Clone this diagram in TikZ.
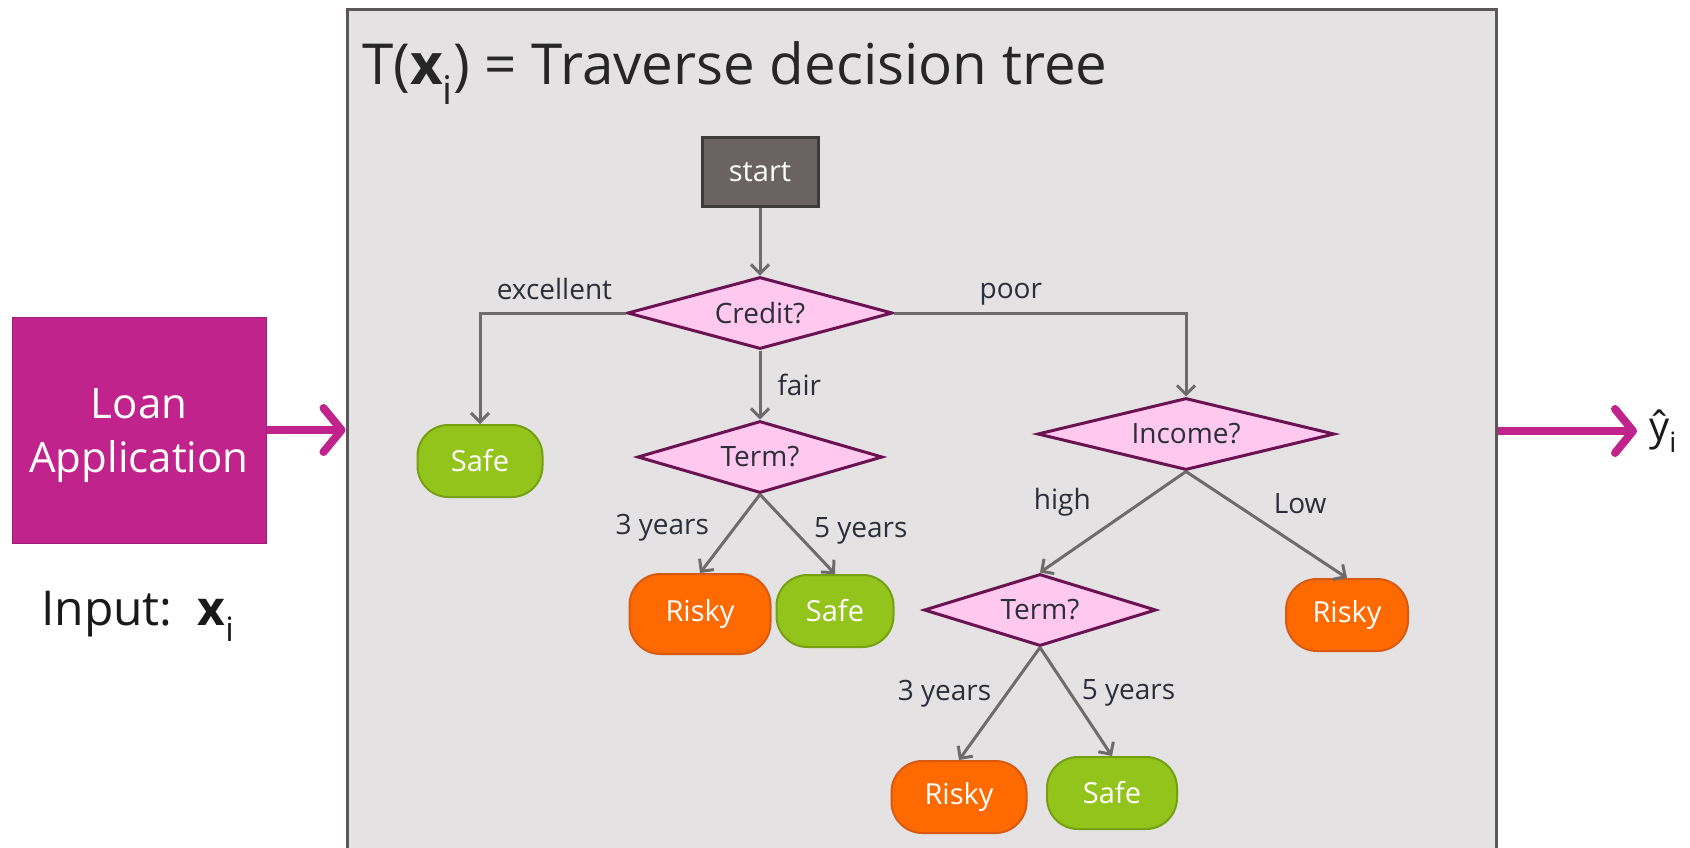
\documentclass[tikz,border=0pt]{standalone}
\usepackage{fontspec}
\setmainfont{Open Sans}
\usepackage{xcolor}
\definecolor{cFrame}{HTML}{5B5757}
\definecolor{cPanel}{HTML}{E4E2E2}
\definecolor{cLoan}{HTML}{C0238B}
\definecolor{cStart}{HTML}{6B6263}
\definecolor{cStartEdge}{HTML}{3E3A3B}
\definecolor{cTest}{HTML}{FFC8EE}
\definecolor{cTestEdge}{HTML}{6A1252}
\definecolor{cSafe}{HTML}{93C41B}
\definecolor{cSafeEdge}{HTML}{74A012}
\definecolor{cRisky}{HTML}{FF6A00}
\definecolor{cRiskyEdge}{HTML}{D85A12}
\definecolor{cEdge}{HTML}{6F6A6B}
\definecolor{cText}{HTML}{2B2F3A}
\usepackage{tikz}
\usetikzlibrary{positioning,arrows.meta,shapes.geometric}
\tikzset{
  node-panel/.style={draw=cFrame,line width=3pt,fill=cPanel,
    minimum width=1149pt,minimum height=880pt,inner sep=0pt},
  node-loan/.style={draw=cLoan!85!black,line width=1pt,fill=cLoan,text=white,
    minimum width=254pt,minimum height=226pt,align=center,text depth=0pt,
    font=\fontsize{42}{54}\selectfont},
  node-start/.style={draw=cStartEdge,line width=3pt,fill=cStart,text=white,
    minimum width=116pt,minimum height=69pt,font=\fontsize{29}{34}\selectfont},
  node-test/.style={diamond,aspect=4,draw=cTestEdge,line width=3pt,fill=cTest,
    inner sep=0pt,minimum height=72pt,text=cText,font=\fontsize{28}{34}\selectfont},
  node-leaf/.style={rounded corners=31pt,line width=2pt,text=white,
    minimum width=122pt,minimum height=72pt,font=\fontsize{29}{34}\selectfont},
  node-safe/.style={node-leaf,draw=cSafeEdge,fill=cSafe},
  node-risky/.style={node-leaf,draw=cRiskyEdge,fill=cRisky},
  edge-label/.style={inner sep=2pt,text=cText,font=\fontsize{28}{34}\selectfont},
  arrow/.style={-{Straight Barb[length=9pt,width=18pt,line width=3pt]},
    line width=3pt,draw=cEdge},
  arrow-feed/.style={-{Straight Barb[length=18pt,width=44pt,line cap=round,
    line join=round]},line width=8pt,draw=cLoan},
}

\begin{document}
\begin{tikzpicture}[x=1pt,y=-1pt]
  \useasboundingbox (0,0) rectangle (1690,847);
  % frame of the tree traversal
  \node[node-panel] (tree) at (921.5,449) {};
  \node[anchor=base west,inner sep=0pt,text=black!85,
    font=\fontsize{56.5}{66}\selectfont] (title) at (362,84)
    {T(\textbf{x}\textsubscript{i}) = Traverse decision tree};

  % input and output
  \node[node-loan] (loan) at (139,430) {Loan\\Application};
  \node[anchor=base west,inner sep=0pt,text=black!90,
    font=\fontsize{48}{56}\selectfont] (input) at (41,625)
    {Input:\ \ \textbf{x}\textsubscript{i}};
  \node[anchor=west,inner sep=0pt,text=black!90,
    font=\fontsize{40}{48}\selectfont] (yhat) at (1649,431) {ŷ\textsubscript{i}};
  \draw[arrow-feed] (loan.east) -- (loan.east -| tree.west);
  \draw[arrow-feed] (tree.east |- yhat) -- ([xshift=-12pt]yhat.west);

  % decision tree
  \node[node-start] (start) at (760,172) {start};
  \node[node-test,minimum width=265pt] (credit) at (760,313) {Credit?};
  \node[node-safe,minimum width=125pt] (safeA) at (480,461) {Safe};
  \node[node-test,minimum width=245pt] (termA) at (760,457) {Term?};
  \node[node-test,minimum width=297pt] (income) at (1186,434) {Income?};
  \node[node-risky,minimum width=141pt,minimum height=80pt] (riskyA) at (700,614) {Risky};
  \node[node-safe,minimum width=117pt] (safeB) at (835,611) {Safe};
  \node[node-test,minimum width=232pt] (termB) at (1040,610) {Term?};
  \node[node-risky] (riskyC) at (1347,615) {Risky};
  \node[node-risky,minimum width=135pt] (riskyB) at (959,797) {Risky};
  \node[node-safe,minimum width=130pt] (safeC) at (1112,793) {Safe};

  \draw[arrow] (start) -- (credit);
  \draw[arrow] (credit.west) -| node[edge-label,pos=0.245,above=10pt] {excellent} (safeA.north);
  \draw[arrow] (credit.east) -| node[edge-label,pos=0.2,above=4pt] {poor} (income.north);
  \draw[arrow] (credit.south) -- node[edge-label,right=14pt] {fair} (termA.north);
  \draw[arrow] (termA.south) -- node[edge-label,pos=0.425,left=22pt] {3 years} (riskyA.north);
  \draw[arrow] (termA.south) -- node[edge-label,pos=0.46,right=16pt] {5 years} (safeB.north);
  \draw[arrow] (income.south) -- node[edge-label,pos=0.3,left=48pt] {high} (termB.north);
  \draw[arrow] (income.south) -- node[edge-label,pos=0.3,right=36pt] {Low} (riskyC.north);
  \draw[arrow] (termB.south) -- node[edge-label,pos=0.41,left=12pt] {3 years} (riskyB.north);
  \draw[arrow] (termB.south) -- node[edge-label,pos=0.42,right=8pt] {5 years} (safeC.north);
\end{tikzpicture}
\end{document}
